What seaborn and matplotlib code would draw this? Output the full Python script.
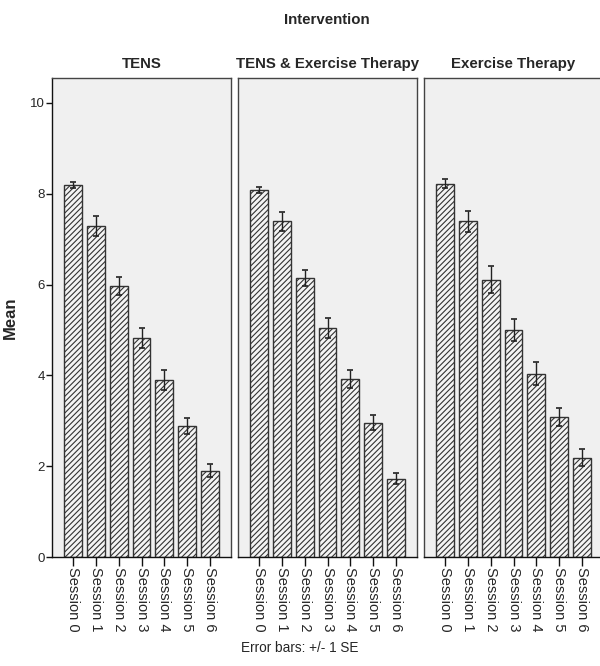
import numpy as np
import pandas as pd
import matplotlib
matplotlib.use("Agg")
import matplotlib.pyplot as plt
import seaborn as sns

groups = ["TENS", "TENS & Exercise Therapy", "Exercise Therapy"]
sessions = ["Session 0", "Session 1", "Session 2", "Session 3", "Session 4", "Session 5", "Session 6"]
tens_mean = [8.19, 7.29, 5.97, 4.82, 3.90, 2.89, 1.90]
tens_se = [0.07, 0.22, 0.20, 0.22, 0.22, 0.17, 0.14]
combo_mean = [8.08, 7.39, 6.15, 5.05, 3.92, 2.96, 1.72]
combo_se = [0.07, 0.20, 0.18, 0.22, 0.20, 0.17, 0.12]
ex_mean = [8.22, 7.39, 6.11, 5.00, 4.04, 3.08, 2.19]
ex_se = [0.10, 0.24, 0.30, 0.25, 0.25, 0.20, 0.18]

means = [tens_mean, combo_mean, ex_mean]
ses = [tens_se, combo_se, ex_se]

rows = []
for g, m, s in zip(groups, means, ses):
    for sess, mv, sv in zip(sessions, m, s):
        rows.append({"Intervention": g, "Session": sess, "Mean": mv, "SE": sv})
df = pd.DataFrame(rows)

sns.set_theme(style="white")
plt.rcParams["font.family"] = ["Liberation Sans", "DejaVu Sans"]
plt.rcParams["hatch.color"] = "#333333"
plt.rcParams["hatch.linewidth"] = 0.8

fig = plt.figure(figsize=(6.0, 6.66), dpi=100)
pw = 179 / 600
gap = 7 / 600
left0 = 52 / 600
bottom = 1 - 557 / 666
height = (557 - 78) / 666

axes = []
for i, g in enumerate(groups):
    ax = fig.add_axes([left0 + i * (pw + gap), bottom, pw, height])
    axes.append(ax)
    sub = df[df["Intervention"] == g]
    sns.barplot(data=sub, x="Session", y="Mean", order=sessions, ax=ax,
                color="#f4f4f4", edgecolor="#333333", linewidth=1.0,
                errorbar=None, width=0.78)
    for p in ax.patches:
        p.set_hatch("//////")
    ax.errorbar(np.arange(len(sessions)), sub["Mean"].values, yerr=sub["SE"].values,
                fmt="none", ecolor="#222222", elinewidth=1.0, capsize=2.5, capthick=1.2)
    ax.set_facecolor("#f0f0f0")
    ax.set_xlim(-0.92, 6.92)
    ax.set_ylim(0, 10.55)
    ax.set_xlabel("")
    ax.set_ylabel("")
    ax.set_title(g, fontsize=10.8, fontweight="bold", pad=7)
    for sp in ax.spines.values():
        sp.set_visible(True)
        sp.set_color("#444444")
        sp.set_linewidth(1.0)
    ax.spines["bottom"].set_color("#111111")
    ax.tick_params(axis="x", bottom=True, length=6.5, width=1, color="#111111",
                   labelsize=10.5, labelrotation=-90, pad=1)
    if i == 0:
        ax.set_yticks([0, 2, 4, 6, 8, 10])
        ax.tick_params(axis="y", left=True, length=4, width=1, color="#111111",
                       labelsize=9.5, pad=1)
        ax.spines["left"].set_color("#111111")
    else:
        ax.set_yticks([])
    for lab in ax.get_xticklabels():
        lab.set_va("top")
        lab.set_ha("center")

axes[0].set_ylabel("Mean", fontsize=12, fontweight="bold")
axes[0].yaxis.set_label_coords((18 - 52) / 179, 0.5)
fig.text(327 / 600, 1 - 20 / 666, "Intervention", ha="center", va="center",
         fontsize=10.8, fontweight="bold")
fig.text(300 / 600, 1 - 648 / 666, "Error bars: +/- 1 SE", ha="center", va="center", fontsize=9.8)

fig.savefig("out.png", dpi=100)
